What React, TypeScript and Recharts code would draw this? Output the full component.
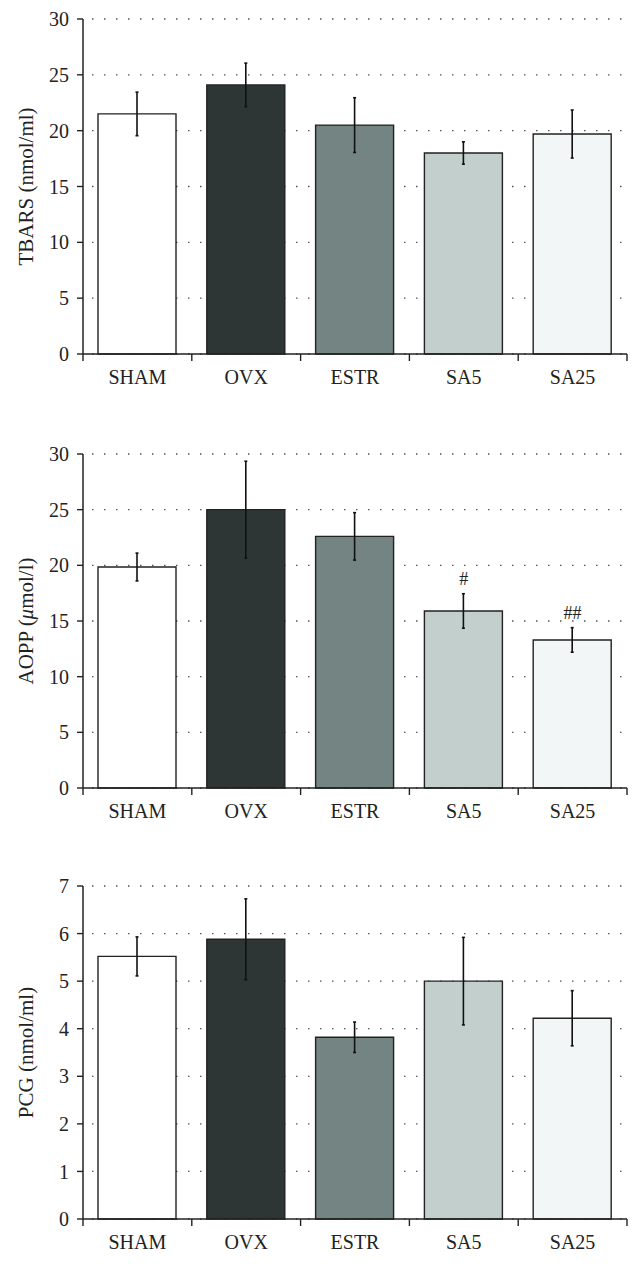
import { BarChart, Bar, XAxis, YAxis, CartesianGrid, ErrorBar, Cell, Line, LabelList } from 'recharts'

const categories = ['SHAM', 'OVX', 'ESTR', 'SA5', 'SA25']
const barColors = ['#ffffff', '#2e3535', '#738482', '#c2cfcc', '#f3f6f7']

const tbarsMean = [21.5, 24.1, 20.5, 18.0, 19.7]
const tbarsErr = [1.95, 1.95, 2.45, 1.0, 2.15]

const aoppMean = [19.85, 25.0, 22.6, 15.9, 13.3]
const aoppErr = [1.25, 4.35, 2.13, 1.55, 1.1]
const aoppMarks = ['', '', '', '#', '##']

const pcgMean = [5.52, 5.88, 3.82, 5.0, 4.22]
const pcgErr = [0.41, 0.85, 0.32, 0.92, 0.58]

const ticks30 = [0, 5, 10, 15, 20, 25, 30]
const ticks7 = [0, 1, 2, 3, 4, 5, 6, 7]

const FONT = '"Liberation Serif", "DejaVu Serif", serif'
const INK = '#222'
const TICK_MARGIN = 16

type Row = { name: string; mean: number; err: number; top: number; mark: string }

function rows(means: number[], errs: number[], marks?: string[]): Row[] {
  return categories.map((name, i) => ({
    name,
    mean: means[i],
    err: errs[i],
    top: means[i] + errs[i],
    mark: marks ? marks[i] : '',
  }))
}

// category labels in the middle, tick marks on the band edges
function CatTick(props: any) {
  const { x, y, payload, index, visibleTicksCount, width } = props
  let half = payload?.offset || props.offset || 0
  if (!half && width && visibleTicksCount) half = width / visibleTicksCount / 2
  const axisY = y - TICK_MARGIN
  return (
    <g>
      <line x1={x - half} x2={x - half} y1={axisY} y2={axisY + 7} stroke={INK} strokeWidth={1.4} />
      {index === visibleTicksCount - 1 && (
        <line x1={x + half} x2={x + half} y1={axisY} y2={axisY + 7} stroke={INK} strokeWidth={1.4} />
      )}
      <text x={x} y={y} dy="0.71em" textAnchor="middle" fill={INK} fontSize={20} fontFamily={FONT}>
        {payload.value}
      </text>
    </g>
  )
}

function YTitle(props: any) {
  const { viewBox, parts } = props
  const cx = 26
  const cy = viewBox.y + viewBox.height / 2
  return (
    <text
      x={cx}
      y={cy}
      transform={`rotate(-90 ${cx} ${cy})`}
      textAnchor="middle"
      dominantBaseline="central"
      fill={INK}
      fontSize={21}
      fontFamily={FONT}
    >
      {parts.map((p: { t: string; i?: boolean }, k: number) => (
        <tspan key={k} fontStyle={p.i ? 'italic' : 'normal'}>{p.t}</tspan>
      ))}
    </text>
  )
}

function renderMark(props: any) {
  const { x, y, value } = props
  if (!value) return null
  return (
    <text x={x} y={y - 9} textAnchor="middle" fill={INK} fontSize={18} fontFamily={FONT}>
      {value}
    </text>
  )
}

type PanelProps = {
  data: Row[]
  height: number
  top: number
  axisHeight: number
  domainMax: number
  ticks: number[]
  title: { t: string; i?: boolean }[]
  marks?: boolean
}

function Panel({ data, height, top, axisHeight, domainMax, ticks, title, marks }: PanelProps) {
  return (
    <BarChart
      width={642}
      height={height}
      data={data}
      margin={{ top, right: 15, bottom: 0, left: 0 }}
      barSize={78}
    >
      <CartesianGrid
        xAxisId="cat"
        vertical={false}
        stroke="#555"
        strokeWidth={1.3}
        strokeDasharray="1.5 10.5"
        strokeDashoffset={-9}
      />
      <XAxis
        xAxisId="cat"
        dataKey="name"
        height={axisHeight}
        axisLine={{ stroke: INK, strokeWidth: 1.5 }}
        tickLine={false}
        tickSize={0}
        tickMargin={TICK_MARGIN}
        interval={0}
        tick={<CatTick />}
      />
      <YAxis
        width={83}
        domain={[0, domainMax]}
        ticks={ticks}
        interval={0}
        axisLine={{ stroke: INK, strokeWidth: 1.5 }}
        tickLine={{ stroke: INK, strokeWidth: 1.4 }}
        tickSize={6}
        tickMargin={8}
        tick={{ fill: INK, fontSize: 20, fontFamily: FONT }}
        label={<YTitle parts={title} />}
      />
      <Bar xAxisId="cat" dataKey="mean" stroke={INK} strokeWidth={1.4} isAnimationActive={false}>
        {data.map((_, i) => (
          <Cell key={i} fill={barColors[i]} />
        ))}
        <ErrorBar dataKey="err" width={1.5} stroke="#111" strokeWidth={1.6} isAnimationActive={false} />
      </Bar>
      {marks && (
        <Line
          xAxisId="cat"
          dataKey="top"
          stroke="none"
          dot={false}
          activeDot={false}
          isAnimationActive={false}
        >
          <LabelList dataKey="mark" content={renderMark} />
        </Line>
      )}
    </BarChart>
  )
}

export default function App() {
  return (
    <div style={{ position: 'absolute', left: 0, top: 0, width: 642, height: 1264, background: '#fff' }}>
      <Panel
        data={rows(tbarsMean, tbarsErr)}
        height={430}
        top={19}
        axisHeight={76}
        domainMax={30}
        ticks={ticks30}
        title={[{ t: 'TBARS (nmol/ml)' }]}
      />
      <Panel
        data={rows(aoppMean, aoppErr, aoppMarks)}
        height={430}
        top={24}
        axisHeight={72}
        domainMax={30}
        ticks={ticks30}
        title={[{ t: 'AOPP (' }, { t: 'μ', i: true }, { t: 'mol/l)' }]}
        marks
      />
      <Panel
        data={rows(pcgMean, pcgErr)}
        height={404}
        top={26}
        axisHeight={45}
        domainMax={7}
        ticks={ticks7}
        title={[{ t: 'PCG (nmol/ml)' }]}
      />
    </div>
  )
}
